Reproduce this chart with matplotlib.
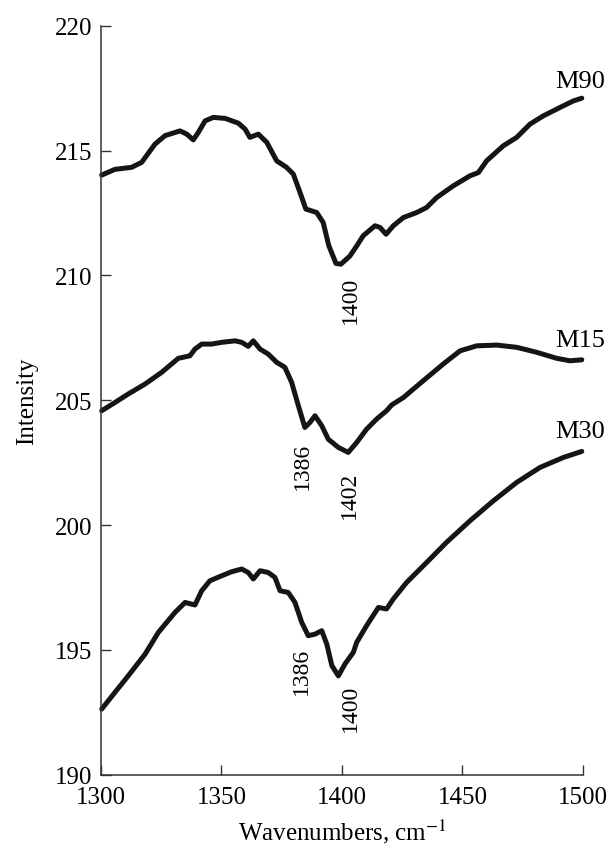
import numpy as np
import matplotlib
matplotlib.use("Agg")
import matplotlib.pyplot as plt

plt.rcParams['font.family'] = ['Liberation Serif', 'DejaVu Serif']
plt.rcParams['mathtext.fontset'] = 'stix'

## spectra (wavenumber, intensity)
wn_M90 = [1300.3, 1305.8, 1312.7, 1316.9, 1322.4, 1326.6, 1332.8, 1335.6, 1338.3, 1340.4,
          1343.2, 1346.6, 1351.5, 1357.0, 1359.8, 1361.8, 1365.3, 1368.8, 1372.9, 1377.0,
          1379.8, 1382.6, 1385.0, 1389.5, 1392.2, 1394.5, 1397.5, 1399.5, 1401.5, 1403.3,
          1406.1, 1408.8, 1413.7, 1415.8, 1418.3, 1421.3, 1425.5, 1431.0, 1435.1, 1439.3,
          1446.2, 1453.1, 1456.6, 1460.0, 1466.9, 1472.5, 1478.0, 1483.5, 1490.5, 1496.0,
          1499.5]
int_M90 = [214.02, 214.25, 214.33, 214.53, 215.26, 215.60, 215.79, 215.66, 215.43, 215.73,
           216.19, 216.33, 216.29, 216.10, 215.86, 215.53, 215.66, 215.33, 214.59, 214.33,
           214.06, 213.32, 212.66, 212.52, 212.12, 211.20, 210.48, 210.45, 210.62, 210.78,
           211.18, 211.59, 211.99, 211.92, 211.65, 211.99, 212.32, 212.52, 212.72, 213.12,
           213.59, 213.99, 214.12, 214.59, 215.19, 215.53, 216.06, 216.39, 216.73, 216.99,
           217.10]

wn_M15 = [1300.3, 1305.8, 1311.3, 1318.3, 1325.2, 1332.1, 1336.9, 1339.0, 1341.8, 1345.9,
          1350.1, 1355.6, 1358.4, 1361.1, 1363.2, 1366.0, 1369.4, 1372.9, 1376.3, 1379.1,
          1381.9, 1384.6, 1386.7, 1388.8, 1391.6, 1394.3, 1398.5, 1402.6, 1406.1, 1410.2,
          1414.4, 1418.5, 1420.6, 1425.5, 1433.7, 1442.0, 1449.0, 1455.9, 1464.2, 1472.5,
          1480.8, 1489.1, 1494.6, 1499.5]
int_M15 = [204.58, 204.91, 205.25, 205.65, 206.12, 206.68, 206.78, 207.05, 207.25, 207.25,
           207.32, 207.38, 207.32, 207.16, 207.38, 207.05, 206.85, 206.52, 206.32, 205.72,
           204.78, 203.91, 204.11, 204.38, 203.98, 203.44, 203.11, 202.91, 203.31, 203.84,
           204.25, 204.58, 204.81, 205.11, 205.78, 206.45, 206.98, 207.18, 207.21, 207.12,
           206.92, 206.68, 206.58, 206.62]

wn_M30 = [1300.3, 1305.8, 1311.3, 1318.3, 1323.8, 1330.7, 1334.9, 1339.0, 1341.8, 1345.2,
          1350.1, 1354.2, 1358.4, 1361.1, 1363.2, 1366.0, 1369.4, 1372.2, 1374.3, 1377.7,
          1380.5, 1383.3, 1386.0, 1388.8, 1391.6, 1393.7, 1395.8, 1398.5, 1401.2, 1404.7,
          1406.1, 1410.2, 1415.1, 1418.5, 1421.3, 1426.8, 1435.1, 1443.4, 1453.1, 1462.8,
          1472.5, 1482.2, 1491.9, 1499.5]
int_M30 = [192.63, 193.30, 193.96, 194.83, 195.70, 196.50, 196.90, 196.80, 197.37, 197.77,
           197.97, 198.13, 198.24, 198.10, 197.84, 198.17, 198.10, 197.90, 197.37, 197.30,
           196.90, 196.10, 195.57, 195.63, 195.77, 195.23, 194.37, 193.96, 194.43, 194.90,
           195.30, 195.97, 196.70, 196.64, 197.04, 197.70, 198.50, 199.31, 200.17, 200.97,
           201.71, 202.31, 202.71, 202.95]

names = ['M90', 'M15', 'M30']
name_y = [217.55, 207.17, 203.52]

# peak labels: (text, x, top y)
peaks = [('1400', 1403.3, 209.97),
         ('1386', 1383.4, 203.32),
         ('1402', 1402.9, 202.16),
         ('1386', 1383.0, 195.11),
         ('1400', 1403.3, 193.63)]

fig = plt.figure(figsize=(6.12, 8.53), dpi=100)
ax = fig.add_axes([0.165, 0.0906, 0.7876, 0.878])

for wn, inten in [(wn_M90, int_M90), (wn_M15, int_M15), (wn_M30, int_M30)]:
    ax.plot(wn, inten, color='#151515', lw=3.6, solid_joinstyle='round', solid_capstyle='round')

for nm, yy in zip(names, name_y):
    ax.text(1509, yy, nm, ha='right', va='baseline', fontsize=19)

for txt, xx, yy in peaks:
    ax.text(xx, yy, txt, rotation=90, ha='center', va='top', fontsize=17)

ax.set_xlim(1300, 1500)
ax.set_ylim(190, 220)
ax.set_xticks([1300, 1350, 1400, 1450, 1500])
ax.set_yticks([190, 195, 200, 205, 210, 215, 220])
ax.tick_params(direction='in', length=7, width=1, labelsize=18, color='#333333')
ax.tick_params(axis='x', pad=8)
ax.tick_params(axis='y', pad=6)
for s in ['top', 'right']:
    ax.spines[s].set_visible(False)
for s in ['left', 'bottom']:
    ax.spines[s].set_color('#333333')
    ax.spines[s].set_linewidth(1.1)
for ln in ax.lines:
    ln.set_clip_on(False)

ax.set_xlabel('Wavenumbers, cm$^{-1}$', fontsize=18, labelpad=6)
ax.set_ylabel('Intensity', fontsize=18, labelpad=12)

fig.savefig('out.png', dpi=100)
